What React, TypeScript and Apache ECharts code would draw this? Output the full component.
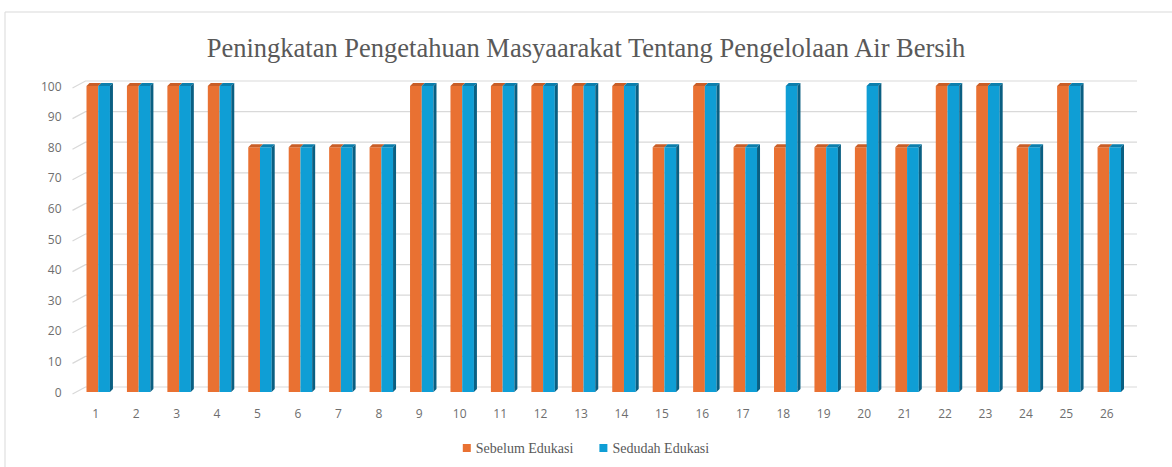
import React, { useEffect, useRef } from "react";
import * as echarts from "echarts";

const categories = ["1","2","3","4","5","6","7","8","9","10","11","12","13","14","15","16","17","18","19","20","21","22","23","24","25","26"];
const sebelum = [100,100,100,100,80,80,80,80,100,100,100,100,100,100,80,100,80,80,80,80,80,100,100,80,100,80];
const sesudah = [100,100,100,100,80,80,80,80,100,100,100,100,100,100,80,100,80,100,80,100,80,100,100,80,100,80];
const yTicks = [0,10,20,30,40,50,60,70,80,90,100];
const titleText = "Peningkatan Pengetahuan Masyaarakat Tentang Pengelolaan Air Bersih";
const seriesNames = ["Sebelum Edukasi", "Sedudah Edukasi"];

const ORANGE = "#E97132";
const ORANGE_TOP = "#C95E27";
const BLUE = "#0F9ED5";
const BLUE_TOP = "#0C7FAD";
const BLUE_SIDE = "#0A5F82";

const DX = 3;
const DY = 3;
const SHIFT = 2.5;

function makeRender(which: number) {
  return (params: any, api: any) => {
    const i = api.value(0);
    const v = api.value(1);
    const base = api.coord([i, 0]);
    const top = api.coord([i, v]);
    const bw = api.size([1, 0])[0] * 0.29;
    const c = base[0] + SHIFT;
    const x0 = which === 0 ? c - bw : c;
    const x1 = which === 0 ? c : c + bw;
    const yT = top[1];
    const yB = base[1];
    const children: any[] = [
      { type: "rect", shape: { x: x0, y: yT, width: x1 - x0, height: yB - yT }, style: { fill: which === 0 ? ORANGE : BLUE } },
      { type: "polygon", shape: { points: [[x0, yT], [x1, yT], [x1 + DX, yT - DY], [x0 + DX, yT - DY]] }, style: { fill: which === 0 ? ORANGE_TOP : BLUE_TOP } },
    ];
    if (which === 1) {
      children.push({ type: "polygon", shape: { points: [[x1, yT], [x1 + DX, yT - DY], [x1 + DX, yB - DY], [x1, yB]] }, style: { fill: BLUE_SIDE } });
    }
    return { type: "group", children };
  };
}

function gridRender(params: any, api: any) {
  const v = api.value(0);
  const p = api.coord([0, v]);
  const cs = params.coordSys;
  const xL = cs.x - 3;
  const xR = cs.x + cs.width + 10;
  const y = p[1];
  return {
    type: "polyline",
    shape: { points: [[xL, y + 2], [cs.x + 10, y - 5], [xR, y - 5]] },
    style: { stroke: "#d9d9d9", lineWidth: 1.2, fill: null },
    silent: true,
  };
}

export default function App() {
  const ref = useRef<HTMLDivElement>(null);
  useEffect(() => {
    if (!ref.current) return;
    const chart = echarts.init(ref.current, null, { renderer: "svg" });
    chart.setOption({
      animation: false,
      backgroundColor: "#ffffff",
      graphic: [
        { type: "rect", shape: { x: 5, y: 12, width: 1300, height: 600 }, style: { fill: null, stroke: "#d9d9d9", lineWidth: 1 }, silent: true },
      ],
      title: {
        text: titleText,
        left: "center",
        top: 29,
        textStyle: { fontFamily: "Liberation Serif", fontSize: 26.5, fontWeight: "normal", color: "#595959" },
      },
      legend: {
        bottom: 7,
        left: "center",
        itemWidth: 8,
        itemHeight: 8,
        itemGap: 26,
        icon: "rect",
        textStyle: { fontFamily: "Liberation Serif", fontSize: 14, color: "#595959" },
        data: [
          { name: seriesNames[0], itemStyle: { color: ORANGE } },
          { name: seriesNames[1], itemStyle: { color: BLUE } },
        ],
      },
      grid: { left: 75.5, right: 45, top: 86, height: 306 },
      xAxis: {
        type: "category",
        data: categories,
        axisLine: { show: false },
        axisTick: { show: false },
        axisLabel: { margin: 15, fontFamily: "Open Sans", fontSize: 12, color: "#6e6e6e" },
      },
      yAxis: {
        type: "value",
        min: 0,
        max: 100,
        interval: 10,
        axisLine: { show: false },
        axisTick: { show: false },
        splitLine: { show: false },
        axisLabel: { margin: 14, fontFamily: "Open Sans", fontSize: 12, color: "#6e6e6e", padding: [8, 0, 0, 0] },
      },
      series: [
        {
          type: "custom",
          name: "grid",
          renderItem: gridRender,
          data: yTicks.map((t) => [t]),
          encode: { y: 0 },
          silent: true,
          z: 0,
          legendHoverLink: false,
        },
        {
          type: "custom",
          name: seriesNames[0],
          renderItem: makeRender(0),
          data: sebelum.map((v, i) => [i, v]),
          encode: { x: 0, y: 1 },
          itemStyle: { color: ORANGE },
          z: 2,
        },
        {
          type: "custom",
          name: seriesNames[1],
          renderItem: makeRender(1),
          data: sesudah.map((v, i) => [i, v]),
          encode: { x: 0, y: 1 },
          itemStyle: { color: BLUE },
          z: 3,
        },
      ],
    });
    return () => chart.dispose();
  }, []);
  return <div ref={ref} style={{ position: "absolute", left: 0, top: 0, width: 1172, height: 467 }} />;
}
